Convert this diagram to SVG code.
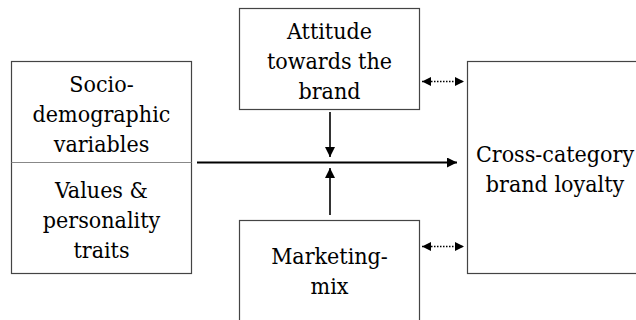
<svg xmlns="http://www.w3.org/2000/svg" width="636" height="320" viewBox="0 0 636 320">
<defs>
<marker id="ah" viewBox="0 0 10 10" refX="10" refY="5" markerWidth="10" markerHeight="10" markerUnits="userSpaceOnUse" orient="auto-start-reverse">
<path d="M0,0 L10,5 L0,10 z" fill="#000"/>
</marker>
<marker id="ahs" viewBox="0 0 10 10" refX="10" refY="5" markerWidth="9" markerHeight="9" markerUnits="userSpaceOnUse" orient="auto-start-reverse">
<path d="M0,0 L10,5 L0,10 z" fill="#000"/>
</marker>
</defs>
<style>
.box{fill:#fff;stroke:#444;stroke-width:1.2}
text{font-family:"DejaVu Serif Condensed","DejaVu Serif",serif;font-stretch:condensed;font-size:23px;fill:#000;text-anchor:middle}
.main{stroke:#000;stroke-width:2.2;fill:none}
.v{stroke:#000;stroke-width:1.6;fill:none}
.dot{stroke:#000;stroke-width:1.3;stroke-dasharray:1.5 1.5;fill:none}
</style>
<rect width="636" height="320" fill="#fff"/>
<g id="left">
<rect class="box" x="11.5" y="61.5" width="180" height="212"/>
<line x1="11.5" y1="162.5" x2="191.5" y2="162.5" stroke="#888" stroke-width="1.2"/>
<text x="101.5" y="92">Socio-</text>
<text x="101.5" y="122">demographic</text>
<text x="101.5" y="152">variables</text>
<text x="101.5" y="198">Values &amp;</text>
<text x="101.5" y="228">personality</text>
<text x="101.5" y="258">traits</text>
</g>
<g id="attitude">
<rect class="box" x="239.5" y="8.5" width="180" height="101"/>
<text x="329.5" y="39">Attitude</text>
<text x="329.5" y="69">towards the</text>
<text x="329.5" y="99">brand</text>
</g>
<g id="marketing">
<rect class="box" x="239.5" y="220.5" width="180" height="120"/>
<text x="329.5" y="264">Marketing-</text>
<text x="329.5" y="294">mix</text>
</g>
<g id="loyalty">
<rect class="box" x="467.5" y="61.5" width="200" height="212"/>
<text x="555" y="162">Cross-category</text>
<text x="555" y="192">brand loyalty</text>
</g>
<g id="connectors">
<line class="main" x1="197" y1="162.5" x2="457" y2="162.5" marker-end="url(#ah)"/>
<line class="v" x1="330" y1="112" x2="330" y2="157" marker-end="url(#ah)"/>
<line class="v" x1="330" y1="215" x2="330" y2="168" marker-end="url(#ah)"/>
<line class="dot" x1="422" y1="81.5" x2="464" y2="81.5" marker-start="url(#ahs)" marker-end="url(#ahs)"/>
<line class="dot" x1="422" y1="246.5" x2="464" y2="246.5" marker-start="url(#ahs)" marker-end="url(#ahs)"/>
</g>
</svg>
